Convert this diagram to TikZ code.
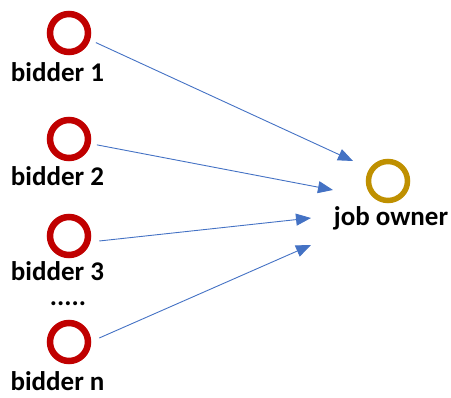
\documentclass[tikz,border=0pt]{standalone}
\usepackage{fontspec}
\setmainfont{Carlito}
\usetikzlibrary{arrows.meta}
\definecolor{bred}{HTML}{C00000}
\definecolor{bgold}{HTML}{BF9000}
\definecolor{bblue}{HTML}{4472C4}
\begin{document}
\begin{tikzpicture}[x=1pt,y=-1pt,
  bidder/.style={circle,draw=bred,line width=6.5pt,minimum size=38pt,inner sep=0pt},
  owner/.style={circle,draw=bgold,line width=5.5pt,minimum size=39pt,inner sep=0pt},
  lbl/.style={font=\bfseries\fontsize{27}{30}\selectfont,inner sep=0pt,anchor=base},
  conn/.style={draw=bblue,line width=0.9pt,-{Triangle[length=15pt,width=12pt]}}]
\useasboundingbox (0,0) rectangle (451,398);
\node[bidder] (b1) at (69,33) {};
\node[bidder] (b2) at (69,139) {};
\node[bidder] (b3) at (69,236) {};
\node[bidder] (bn) at (69,342) {};
\node[owner] (jo) at (388,181) {};
\node[lbl] (l1) at (57.5,82) {bidder 1};
\node[lbl] (l2) at (57.5,186) {bidder 2};
\node[lbl] (l3) at (57.5,281) {bidder 3};
\node[lbl,text height=5pt,text depth=0pt] (ld) at (68,306) {.....};
\node[lbl] (ln) at (57.5,391) {bidder n};
\node[lbl] (lj) at (391,226) {job owner};
\coordinate (t1) at (353,161);
\coordinate (t2) at (333,190);
\coordinate (t3) at (311,218);
\coordinate (t4) at (311,245);
\draw[conn] (b1.-20) ++(6,2) -- (t1);
\draw[conn] (b2.-10) ++(6,2) -- (t2);
\draw[conn] (b3.0) ++(8,5) -- (t3);
\draw[conn] (bn.0) ++(8,-4) -- (t4);
\end{tikzpicture}
\end{document}
